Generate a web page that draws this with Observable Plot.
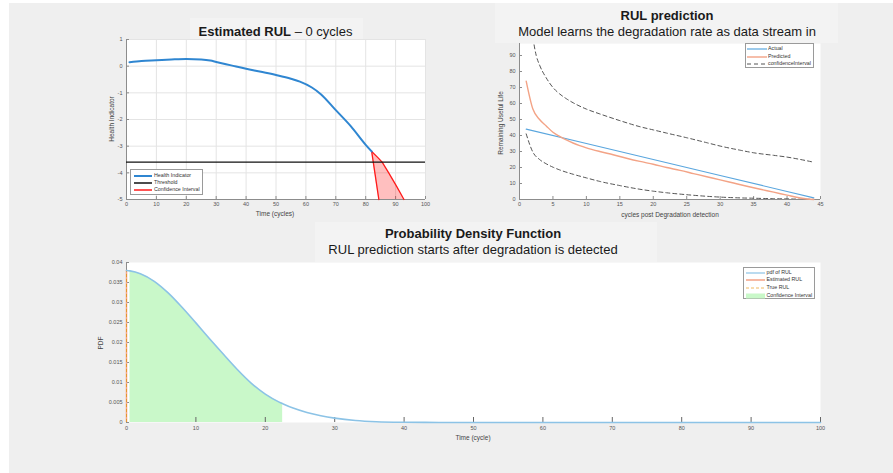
<!DOCTYPE html>
<html>
<head>
<meta charset="utf-8">
<script src="https://cdn.jsdelivr.net/npm/d3@7"></script>
<script src="https://cdn.jsdelivr.net/npm/@observablehq/plot@0.6"></script>
<style>
  body { margin: 0; background: #fff; font-family: "Liberation Sans", Arial, sans-serif; }
  #page { position: relative; width: 893px; height: 473px; overflow: hidden; background: #fff; }
  #bg { position: absolute; left: 9px; top: 3px; width: 884px; height: 470px; background: #efefef; }
  .tbox { position: absolute; background: #f3f3f3; }
  .txt { position: absolute; white-space: nowrap; line-height: 1; color: #1a1a1a; }
  .ttl { font-size: 13px; transform: translateX(-50%); }
  .axl { font-size: 6.5px; color: #444; transform: translate(-50%, -50%); }
  .axl.rot { transform: translate(-50%, -50%) rotate(-90deg); }
  .legend { position: absolute; background: #fff; border: 1px solid #9a9a9a; box-sizing: border-box; }
  .legend span { position: absolute; font-size: 5.3px; color: #333; line-height: 1; transform: translateY(-50%); white-space: nowrap; }
  .legend svg { position: absolute; overflow: visible; }
  .plot { position: absolute; }
</style>
</head>
<body>
<div id="page"><div id="bg"></div></div>
<script>
// ---------------- DATA ----------------
// Panel 1: Estimated RUL – health indicator
const hiTime = [1, 5, 10, 15, 20, 25, 28, 30, 35, 40, 45, 50, 55, 58, 62, 65, 70, 75, 80, 82];
const hiValue = [0.15, 0.19, 0.22, 0.25, 0.27, 0.25, 0.21, 0.16, 0.03, -0.10, -0.21, -0.33, -0.47, -0.58, -0.80, -1.05, -1.65, -2.25, -2.95, -3.20];
const threshold = -3.6;
const ciY = [-3.2, -3.42, -3.6, -4.0, -4.5, -5.0];
const ciLeftX = [82, 82.29, 82.53, 83.07, 83.73, 84.4];
const ciRightX = [82, 84.0, 85.5, 87.7, 90.3, 92.8];
const p1XDomain = [0, 100], p1YDomain = [-5, 1];
const p1XTicks = [0, 10, 20, 30, 40, 50, 60, 70, 80, 90, 100];
const p1YTicks = [-5, -4, -3, -2, -1, 0, 1];

// Panel 2: RUL prediction
const actualCycle = [1, 10, 20, 30, 40, 44];
const actualRUL = [44, 35, 25, 15, 5, 1];
const predCycle = [1, 2, 3, 4, 5, 6, 7, 8, 9, 10, 12, 14, 16, 18, 20, 22, 24, 26, 28, 30, 32, 34, 36, 38, 40, 42, 43, 44];
const predRUL = [74, 56.5, 50, 46, 42, 39.5, 37.2, 35.3, 33.7, 32.3, 30, 28, 25.8, 23.8, 22, 20, 18.2, 16.2, 14.2, 12.3, 10.3, 8.3, 6.4, 4.6, 2.7, 0.9, 0.3, 0];
const upperCycle = [2, 2.5, 3, 4, 5, 6, 7, 8, 10, 12, 15, 18, 20, 22, 25, 28, 30, 33, 35, 38, 40, 42, 44];
const upperRUL = [101, 90, 84, 76, 70, 66, 63, 60.5, 56.5, 53.5, 49.3, 45.5, 43.5, 41.5, 38.6, 35.5, 33.4, 30.8, 29.2, 27.6, 26.5, 25, 23.3];
const lowerCycle = [1, 2, 3, 4, 5, 6, 8, 10, 12, 15, 18, 20, 22, 25, 28, 30, 33, 35, 38, 40, 42, 44];
const lowerRUL = [41, 29.6, 25, 22.3, 20.2, 18.5, 15.8, 13.5, 11.3, 8.7, 6.4, 5.2, 4.2, 3.0, 2.0, 1.5, 1.0, 0.8, 0.5, 0.4, 0.2, 0.1];
const p2XDomain = [0, 45], p2YDomain = [0, 97.5];
const p2XTicks = [0, 5, 10, 15, 20, 25, 30, 35, 40, 45];
const p2YTicks = [0, 10, 20, 30, 40, 50, 60, 70, 80, 90];

// Panel 3: Probability density function
const pdfTime = [0, 0.5, 2, 4, 6, 8, 10, 12, 14, 16, 18, 20, 22, 22.5, 24, 26, 28, 30, 33, 36, 40, 45, 50, 60, 70, 80, 90, 100];
const pdfValue = [0.0380, 0.0379, 0.0372, 0.0353, 0.0324, 0.0288, 0.0249, 0.0209, 0.0170, 0.0132, 0.0098, 0.0071, 0.0051, 0.0047, 0.0036, 0.0025, 0.0017, 0.0011, 0.0005, 0.0002, 0.00006, 0.00001, 0, 0, 0, 0, 0, 0];
const ciLow = 0.5, ciHigh = 22.5;
const estimatedRUL = 0, trueRUL = 0;
const p3XDomain = [0, 100], p3YDomain = [0, 0.04];
const p3XTicks = [0, 10, 20, 30, 40, 50, 60, 70, 80, 90, 100];
const p3YTicks = [0, 0.005, 0.01, 0.015, 0.02, 0.025, 0.03, 0.035, 0.04];

// ---------------- HELPERS ----------------
const page = document.getElementById("page");
const FONT = '"Liberation Sans", Arial, sans-serif';
const fmt = d => d === 0 ? "0" : String(+d.toFixed(3));
function add(el, left, top) {
  el.style.left = left + "px"; el.style.top = top + "px";
  page.appendChild(el); return el;
}
function box(left, top, w, h) {
  const d = document.createElement("div"); d.className = "tbox";
  d.style.width = w + "px"; d.style.height = h + "px"; return add(d, left, top);
}
function text(html, cls, left, top) {
  const d = document.createElement("div"); d.className = "txt " + cls; d.innerHTML = html; return add(d, left, top);
}
function legend(left, top, w, h, rows) {
  const d = document.createElement("div"); d.className = "legend";
  d.style.width = w + "px"; d.style.height = h + "px";
  for (const r of rows) {
    const s = document.createElementNS("http://www.w3.org/2000/svg", "svg");
    s.setAttribute("width", r.x2 - r.x1); s.setAttribute("height", 6);
    s.style.left = r.x1 + "px"; s.style.top = (r.y - 3) + "px";
    if (r.patch) {
      s.innerHTML = `<rect x="0" y="0.5" width="${r.x2 - r.x1}" height="5" fill="${r.color}"/>`;
    } else {
      s.innerHTML = `<line x1="0" x2="${r.x2 - r.x1}" y1="3" y2="3" stroke="${r.color}" stroke-width="${r.width}" ${r.dash ? `stroke-dasharray="${r.dash}"` : ""}/>`;
    }
    d.appendChild(s);
    const t = document.createElement("span"); t.textContent = r.label;
    t.style.left = r.tx + "px"; t.style.top = r.y + "px";
    d.appendChild(t);
  }
  return add(d, left, top);
}
const zip = (a, b) => a.map((x, i) => ({x, y: b[i]}));
function plotAt(left, top, opts) {
  const svg = Plot.plot({
    ...opts,
    style: {background: "transparent", fontFamily: FONT, fontSize: "5.5px", color: "#4a4a4a", overflow: "visible"}
  });
  svg.classList.add("plot");
  return add(svg, left, top);
}

// ---------------- PANEL 1 ----------------
box(190, 18, 173, 21);
text('<b>Estimated RUL</b> – 0 cycles', "ttl", 275.5, 24.5).style.fontSize = "13px";
{
  const W = 340, H = 190, ml = 30, mr = 11, mt = 9, mb = 21;
  const pw = W - ml - mr, ph = H - mt - mb;
  const hi = zip(hiTime, hiValue);
  const ci = ciY.map((y, i) => ({y, x1: ciLeftX[i], x2: ciRightX[i]}));
  plotAt(96, 30, {
    width: W, height: H, marginLeft: ml, marginRight: mr, marginTop: mt, marginBottom: mb,
    x: {domain: p1XDomain}, y: {domain: p1YDomain},
    marks: [
      Plot.frame({fill: "white", stroke: "none"}),
      Plot.gridX(p1XTicks, {stroke: "#e4e4e4", strokeOpacity: 1}),
      Plot.gridY(p1YTicks, {stroke: "#e4e4e4", strokeOpacity: 1}),
      Plot.ruleX([p1XDomain[0]], {stroke: "#8c8c8c"}),
      Plot.ruleY([p1YDomain[0]], {stroke: "#8c8c8c"}),
      Plot.tickX(p1XTicks, {x: d => d, insetTop: ph - 3, stroke: "#8c8c8c"}),
      Plot.tickY(p1YTicks, {y: d => d, insetRight: pw - 3, stroke: "#8c8c8c"}),
      Plot.axisX({ticks: p1XTicks, tickSize: 0, tickPadding: 3, fill: "#555", label: null, tickFormat: fmt}),
      Plot.axisY({ticks: p1YTicks, tickSize: 0, tickPadding: 4, fill: "#555", label: null, tickFormat: fmt}),
      Plot.areaX(ci, {y: "y", x1: "x1", x2: "x2", fill: "#ff0000", fillOpacity: 0.25}),
      Plot.line(ci, {x: "x1", y: "y", stroke: "#ff1a1a", strokeWidth: 1.3}),
      Plot.line(ci, {x: "x2", y: "y", stroke: "#ff1a1a", strokeWidth: 1.3}),
      Plot.ruleY([threshold], {stroke: "#111", strokeWidth: 1.3}),
      Plot.line(hi, {x: "x", y: "y", stroke: "#2f86d1", strokeWidth: 2, curve: "monotone-x"})
    ]
  });
  text("Time (cycles)", "axl", 275, 214);
  text("Health Indicator", "axl rot", 111.5, 119);
  legend(130, 169, 73, 26, [
    {label: "Health Indicator", color: "#2f86d1", width: 2, x1: 2.5, x2: 20.5, tx: 23, y: 5.5},
    {label: "Threshold", color: "#111", width: 1.5, x1: 2.5, x2: 20.5, tx: 23, y: 12.5},
    {label: "Confidence Interval", color: "#ff1a1a", width: 1.5, x1: 2.5, x2: 20.5, tx: 23, y: 19.5}
  ]);
}

// ---------------- PANEL 2 ----------------
box(495, 3, 343, 40);
text("<b>RUL prediction</b>", "ttl", 667, 9);
text("Model learns the degradation rate as data stream in", "ttl", 667, 25);
{
  const W = 340, H = 182, ml = 29, mr = 10, mt = 5, mb = 21;
  const pw = W - ml - mr, ph = H - mt - mb;
  plotAt(490, 38, {
    width: W, height: H, marginLeft: ml, marginRight: mr, marginTop: mt, marginBottom: mb,
    x: {domain: p2XDomain}, y: {domain: p2YDomain},
    marks: [
      Plot.frame({fill: "white", stroke: "none"}),
      Plot.ruleX([p2XDomain[0]], {stroke: "#8c8c8c"}),
      Plot.ruleY([p2YDomain[0]], {stroke: "#8c8c8c"}),
      Plot.tickX(p2XTicks, {x: d => d, insetTop: ph - 3, stroke: "#8c8c8c"}),
      Plot.tickY(p2YTicks, {y: d => d, insetRight: pw - 3, stroke: "#8c8c8c"}),
      Plot.axisX({ticks: p2XTicks, tickSize: 0, tickPadding: 3, fill: "#555", label: null, tickFormat: fmt}),
      Plot.axisY({ticks: p2YTicks, tickSize: 0, tickPadding: 4, fill: "#555", label: null, tickFormat: fmt}),
      Plot.line(zip(upperCycle, upperRUL), {x: "x", y: "y", stroke: "#555", strokeWidth: 1, strokeDasharray: "4,3", curve: "monotone-x", clip: true}),
      Plot.line(zip(lowerCycle, lowerRUL), {x: "x", y: "y", stroke: "#555", strokeWidth: 1, strokeDasharray: "4,3", curve: "monotone-x", clip: true}),
      Plot.line(zip(actualCycle, actualRUL), {x: "x", y: "y", stroke: "#5aa6de", strokeWidth: 1.2}),
      Plot.line(zip(predCycle, predRUL), {x: "x", y: "y", stroke: "#f3a386", strokeWidth: 1.4, curve: "monotone-x"})
    ]
  });
  text("cycles post Degradation detection", "axl", 670, 215);
  text("Remaining Useful Life", "axl rot", 500.5, 123);
  legend(745, 43, 69, 25, [
    {label: "Actual", color: "#5aa6de", width: 1.2, x1: 1, x2: 21, tx: 22, y: 5},
    {label: "Predicted", color: "#f3a386", width: 1.4, x1: 1, x2: 21, tx: 22, y: 12.5},
    {label: "confidenceInterval", color: "#555", width: 1, dash: "4,3", x1: 1, x2: 21, tx: 22, y: 20}
  ]);
}

// ---------------- PANEL 3 ----------------
box(315, 222, 342, 40);
text("<b>Probability Density Function</b>", "ttl", 473, 227);
text("RUL prediction starts after degradation is detected", "ttl", 473, 243);
{
  const W = 740, H = 190, ml = 31, mr = 15, mt = 7, mb = 23;
  const pw = W - ml - mr, ph = H - mt - mb;
  const pdf = zip(pdfTime, pdfValue);
  const ciArea = pdf.filter(d => d.x >= ciLow && d.x <= ciHigh);
  plotAt(95, 255, {
    width: W, height: H, marginLeft: ml, marginRight: mr, marginTop: mt, marginBottom: mb,
    x: {domain: p3XDomain}, y: {domain: p3YDomain},
    marks: [
      Plot.frame({fill: "white", stroke: "none"}),
      Plot.areaY(ciArea, {x: "x", y: "y", fill: "#c9f8c9", curve: "monotone-x"}),
      Plot.ruleX([p3XDomain[0]], {stroke: "#8c8c8c"}),
      Plot.tickX(p3XTicks, {x: d => d, insetTop: ph - 5, stroke: "#666"}),
      Plot.tickY(p3YTicks, {y: d => d, insetRight: pw - 3, stroke: "#8c8c8c"}),
      Plot.axisX({ticks: p3XTicks, tickSize: 0, tickPadding: 3.5, fill: "#555", label: null, tickFormat: fmt}),
      Plot.axisY({ticks: p3YTicks, tickSize: 0, tickPadding: 4, fill: "#555", label: null, tickFormat: fmt}),
      Plot.ruleX([estimatedRUL], {y1: 0, y2: pdfValue[0], stroke: "#f3a386", strokeWidth: 1.5}),
      Plot.ruleX([trueRUL], {y1: 0, y2: pdfValue[0], stroke: "#e39a2e", strokeWidth: 1, strokeDasharray: "3,2"}),
      Plot.line(pdf, {x: "x", y: "y", stroke: "#8cc3e6", strokeWidth: 1.6, curve: "monotone-x"})
    ]
  });
  text("Time (cycle)", "axl", 473, 437.5);
  text("PDF", "axl rot", 101, 343);
  legend(742.5, 267, 72, 32, [
    {label: "pdf of RUL", color: "#8cc3e6", width: 1.2, x1: 2, x2: 21, tx: 23, y: 4.7},
    {label: "Estimated RUL", color: "#f6b9a4", width: 2, x1: 2, x2: 21, tx: 23, y: 12.3},
    {label: "True RUL", color: "#f0b860", width: 1, dash: "3,2", x1: 2, x2: 21, tx: 23, y: 20},
    {label: "Confidence Interval", color: "#c9f8c9", patch: true, x1: 2, x2: 21, tx: 23, y: 27.7}
  ]);
}
</script>
</body>
</html>
